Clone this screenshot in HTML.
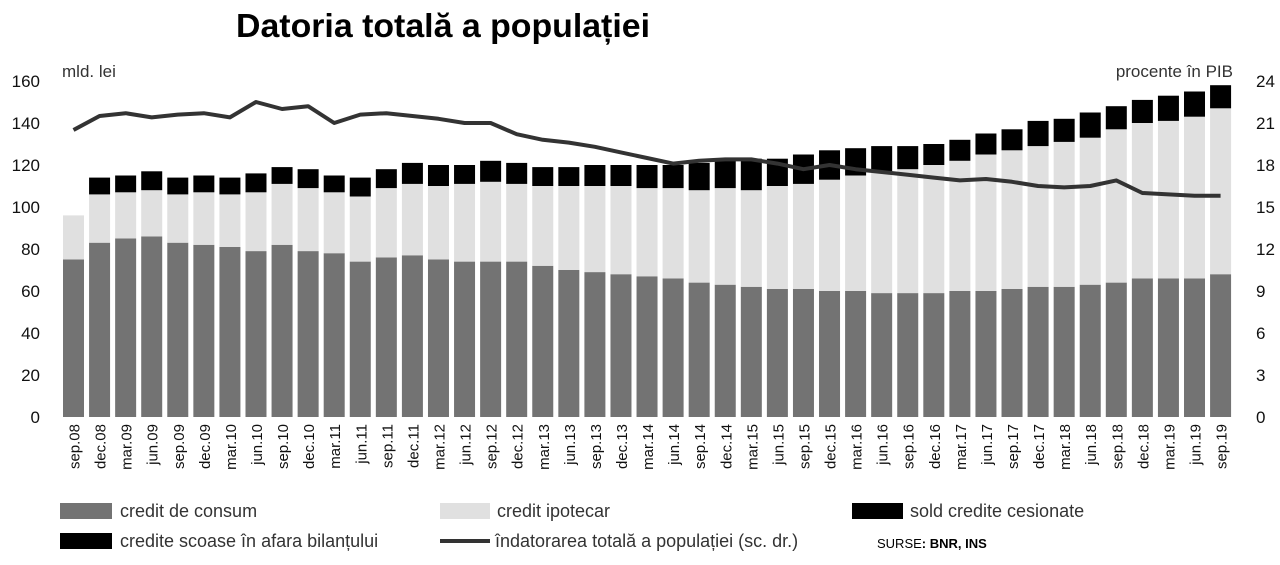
<!DOCTYPE html>
<html><head><meta charset="utf-8">
<style>
body{margin:0;background:#fff;font-family:"Liberation Sans",sans-serif;}
svg{display:block}
</style></head>
<body>
<svg id="chart" width="1280" height="565">
<text x="236" y="37" font-size="33" font-weight="bold" fill="#000" textLength="414" lengthAdjust="spacingAndGlyphs">Datoria totală a populației</text>
<text x="62" y="77" font-size="17" fill="#333">mld. lei</text>
<text x="1233" y="77" font-size="17" fill="#333" text-anchor="end">procente în PIB</text>
<g id="bars"></g><g id="axes"></g><g id="lineg"></g>
<g font-size="18" fill="#333">
<rect x="60" y="503" width="52" height="16" fill="#737373"/>
<text x="120" y="517">credit de consum</text>
<rect x="440" y="503" width="50" height="16" fill="#e0e0e0"/>
<text x="497" y="517">credit ipotecar</text>
<rect x="852" y="503" width="51" height="16" fill="#000"/>
<text x="910" y="517">sold credite cesionate</text>
<rect x="60" y="533" width="52" height="16" fill="#000"/>
<text x="120" y="547">credite scoase în afara bilanțului</text>
<line x1="440" y1="541" x2="490" y2="541" stroke="#333" stroke-width="4"/>
<text x="495" y="547">îndatorarea totală a populației (sc. dr.)</text>
<text x="877" y="548" font-size="13" fill="#000">SURSE<tspan font-weight="bold">: BNR, INS</tspan></text>
</g>
</svg>
<script>
const categories=["sep.08","dec.08","mar.09","jun.09","sep.09","dec.09","mar.10","jun.10","sep.10","dec.10","mar.11","jun.11","sep.11","dec.11","mar.12","jun.12","sep.12","dec.12","mar.13","jun.13","sep.13","dec.13","mar.14","jun.14","sep.14","dec.14","mar.15","jun.15","sep.15","dec.15","mar.16","jun.16","sep.16","dec.16","mar.17","jun.17","sep.17","dec.17","mar.18","jun.18","sep.18","dec.18","mar.19","jun.19","sep.19"];
const consum=[75,83,85,86,83,82,81,79,82,79,78,74,76,77,75,74,74,74,72,70,69,68,67,66,64,63,62,61,61,60,60,59,59,59,60,60,61,62,62,63,64,66,66,66,68];
const ipotecar=[21,23,22,22,23,25,25,28,29,30,29,31,33,34,35,37,38,37,38,40,41,42,42,43,44,46,46,49,50,53,55,58,59,61,62,65,66,67,69,70,73,74,75,77,79];
const cesionate=[0,8,8,9,8,8,8,9,8,9,8,9,9,10,10,9,10,10,9,9,10,10,11,11,13,14,15,13,14,14,13,12,11,10,10,10,10,12,11,12,11,11,12,12,11];
const indatorare=[20.5,21.5,21.7,21.4,21.6,21.7,21.4,22.5,22.0,22.2,21.0,21.6,21.7,21.5,21.3,21.0,21.0,20.2,19.8,19.6,19.3,18.9,18.5,18.1,18.3,18.4,18.4,18.1,17.7,18.0,17.7,17.5,17.3,17.1,16.9,17.0,16.8,16.5,16.4,16.5,16.9,16.0,15.9,15.8,15.8];
const leftTicks=[0,20,40,60,80,100,120,140,160];
const rightTicks=[0,3,6,9,12,15,18,21,24];
const NS="http://www.w3.org/2000/svg";
const y0=417,y1=81,x0=73.5,pitch=26.07,bw=21;
const yL=v=>y0-(v/160)*(y0-y1);
const yR=v=>y0-(v/24)*(y0-y1);
const xC=i=>x0+i*pitch;
function mk(t,a,p){const e=document.createElementNS(NS,t);for(const k in a)e.setAttribute(k,a[k]);p.appendChild(e);return e;}
const bars=document.getElementById('bars'),axes=document.getElementById('axes'),lg=document.getElementById('lineg');
categories.forEach((c,i)=>{
  let base=0;
  [[consum,'#737373','consum'],[ipotecar,'#e0e0e0','ipotecar'],[cesionate,'#000','cesionate']].forEach(([arr,col,nm])=>{
    const v=arr[i];if(v<=0)return;
    const r=mk('rect',{x:xC(i)-bw/2,y:yL(base+v),width:bw,height:yL(base)-yL(base+v),fill:col},bars);
    
    
    base+=v;
  });
  const t=mk('text',{transform:`translate(${xC(i)+6},424) rotate(-90)`,'text-anchor':'end','font-size':'15','fill':'#111'},axes);
  t.textContent=c;
  
  
});
leftTicks.forEach(v=>{
  const t=mk('text',{x:40,y:yL(v)+6,'text-anchor':'end','font-size':'17','fill':'#111'},axes);
  t.textContent=v;
  
  
});
rightTicks.forEach(v=>{
  const t=mk('text',{x:1256,y:yR(v)+6,'font-size':'17','fill':'#111'},axes);
  t.textContent=v;
  
  
});
const pts=indatorare.map((v,i)=>xC(i)+','+yR(v)).join(' ');
const pl=mk('polyline',{points:pts,fill:'none',stroke:'#333','stroke-width':'4','stroke-linejoin':'round'},lg);


</script>
</body></html>
